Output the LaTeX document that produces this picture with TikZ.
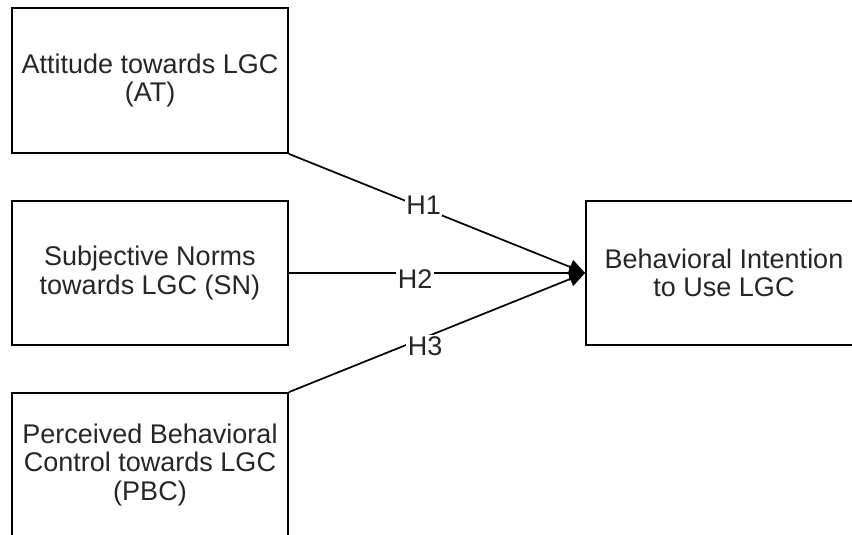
\documentclass[tikz,border=0pt]{standalone}
\usepackage{fontspec}
\setmainfont{Liberation Sans}
\usepackage{tikz}
\usetikzlibrary{positioning,calc,arrows.meta}

\begin{document}
\begin{tikzpicture}[x=1pt, y=-1pt,
        construct/.style={draw, line width=1.8pt, minimum width=276pt, minimum height=144pt, align=center, font=\fontsize{27}{28.5}\selectfont, text=black!85},
        hyp/.style={fill=white, inner sep=1.5pt, font=\fontsize{27}{28}\selectfont, text=black!85},
        effect/.style={line width=1.7pt, -{Triangle[length=16pt, width=15pt]}}]
    \useasboundingbox (0,0) rectangle (852,535);
    \clip (0,0) rectangle (852,535);

    % Predictors
    \node[construct, minimum height=145pt] (at) at (150,80.5) {Attitude towards LGC\\(AT)};
    \node[construct] (sn) at (150,273) {Subjective Norms\\towards LGC (SN)};
    \node[construct] (pbc) at (150,465) {Perceived Behavioral\\Control towards LGC\\(PBC)};

    % Outcome
    \node[construct] (bi) at (724,273) {Behavioral Intention\\to Use LGC};

    % Hypotheses
    \draw[effect] (at.south east) -- (bi.west) node[hyp, pos=0.455, yshift=2.5pt] {H1};
    \draw[effect] (sn.east) -- (bi.west) node[hyp, pos=0.426, yshift=-6pt] {H2};
    \draw[effect] (pbc.north east) -- (bi.west) node[hyp, pos=0.46, yshift=-9pt] {H3};
\end{tikzpicture}
\end{document}
